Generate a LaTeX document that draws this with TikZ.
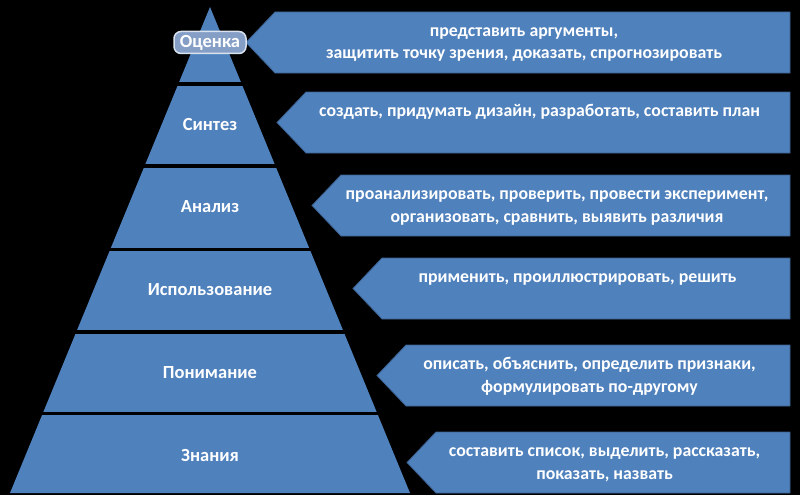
\documentclass[tikz,border=0pt]{standalone}
\usepackage{fontspec}
\setmainfont{Carlito}
\usepackage{xcolor}
\definecolor{pyrblue}{RGB}{79,129,189}
\definecolor{pyredge}{RGB}{60,96,142}
\definecolor{boxgray}{RGB}{132,158,198}

\begin{document}
\begin{tikzpicture}[x=1pt,y=-1pt,
level/.style={text=white,font=\fontsize{18.5}{22}\selectfont\bfseries,inner sep=0pt},
verbs/.style={text=white,font=\fontsize{17.8}{22.5}\selectfont\bfseries,align=center,
anchor=base,inner sep=0pt},
callout/.style={fill=pyrblue,draw=pyredge,line width=0.8pt}]
    \useasboundingbox[fill=black] (0,0) rectangle (800,495);
    \fill[pyrblue] (210,7) -- (410,493) -- (10,493) -- cycle;
    \foreach \y in {84,166,249.5,332,413.5}
        \draw[black,line width=3.5pt] (0,\y) -- (420,\y);
    \foreach \t/\tip in {12/246,92/277,175/312,258/353,345/377,432/407}
        \draw[callout] (\tip,\t+30.5) -- (\tip+29,\t) -- (790,\t)
            -- (790,\t+61) -- (\tip+29,\t+61) -- cycle;
    \node[level,fill=boxgray,draw=white!70!boxgray,line width=1.5pt,rounded corners=7pt,
        minimum width=72pt,minimum height=22pt] (Level e) at (210,42.5) {Оценка};
    \node[level] (Level s) at (210,125) {Синтез};
    \node[level] (Level a) at (210,207) {Анализ};
    \node[level] (Level u) at (210,290) {Использование};
    \node[level] (Level c) at (210,373) {Понимание};
    \node[level] (Level k) at (210,456) {Знания};
    \node[verbs] (Verbs e) at (524,59) {представить аргументы,\\защитить точку зрения, доказать, спрогнозировать};
    \node[verbs] (Verbs s) at (539.5,116.5) {создать, придумать дизайн, разработать, составить план};
    \node[verbs] (Verbs a) at (557,222) {проанализировать, проверить, провести эксперимент,\\организовать, сравнить, выявить различия};
    \node[verbs] (Verbs u) at (577.5,282.5) {применить, проиллюстрировать, решить};
    \node[verbs] (Verbs c) at (589.5,392) {описать, объяснить, определить признаки,\\формулировать по-другому};
    \node[verbs] (Verbs k) at (604.5,479) {составить список, выделить, рассказать,\\показать, назвать};
\end{tikzpicture}
\end{document}
